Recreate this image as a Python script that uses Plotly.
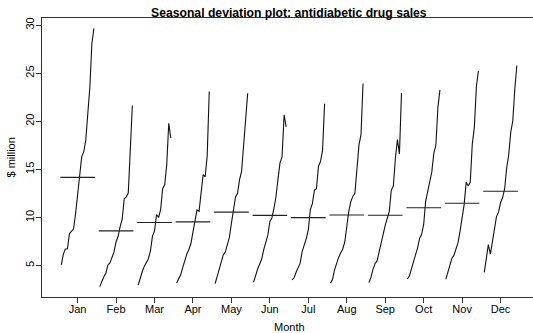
import numpy as np
import plotly.graph_objects as go

months = ["Jan", "Feb", "Mar", "Apr", "May", "Jun", "Jul", "Aug", "Sep", "Oct", "Nov", "Dec"]

# Jan-Jun: 1992-2008, Jul-Dec: 1991-2007 ($ million)
jan = [5.088335, 6.192068, 6.731473, 6.749484, 8.329452, 8.524471, 8.798513, 10.391416, 12.511462, 14.497581, 16.300269, 16.828350, 18.003768, 20.778723, 23.486694, 28.038383, 29.665356]
feb = [2.814520, 3.450857, 3.841278, 4.216067, 5.069796, 5.277918, 5.918261, 6.421535, 7.457199, 8.049275, 9.053485, 9.800215, 11.938030, 12.154552, 12.536987, 16.763869, 21.654285]
mar = [2.985811, 3.772307, 4.394076, 4.949349, 5.262557, 5.714303, 6.534493, 8.062619, 8.591191, 10.312891, 10.002449, 10.816994, 12.997900, 13.402392, 15.467018, 19.792754, 18.264945]
apr = [3.204780, 3.734303, 4.075341, 4.823045, 5.597126, 6.214529, 6.675736, 7.297739, 8.474000, 9.753358, 10.788750, 10.654223, 12.882645, 14.459239, 14.233539, 16.427305, 23.107677]
may = [3.127578, 3.905399, 4.540645, 5.194754, 6.110296, 6.411929, 7.064201, 7.936916, 9.386803, 10.850382, 12.106705, 12.512323, 13.943447, 14.795102, 17.783058, 21.000742, 22.912510]
jun = [3.270523, 4.049687, 4.645615, 5.170787, 5.689161, 6.667716, 7.383381, 8.165323, 9.560399, 9.961719, 10.954101, 12.161210, 13.989472, 15.705248, 16.291602, 20.681002, 19.431740]
jul = [3.526591, 3.737851, 4.315566, 4.752607, 5.256742, 6.486849, 7.050831, 7.813496, 8.717420, 10.834295, 11.443601, 12.844566, 12.998046, 15.339097, 15.829550, 16.980282, 21.834890]
aug = [3.180891, 3.558776, 4.562185, 5.350605, 5.855277, 6.300569, 6.704919, 7.431892, 9.070964, 10.643751, 11.659239, 12.196500, 12.517276, 15.370764, 17.554701, 18.612189, 23.930204]
sep = [3.252221, 3.777202, 4.608662, 5.204455, 5.490729, 6.467476, 7.250988, 8.275117, 9.177113, 9.908162, 10.647060, 12.854748, 13.268658, 16.142005, 18.100864, 16.623343, 22.930357]
oct_ = [3.611003, 3.924490, 4.667851, 5.301651, 6.115293, 6.828629, 7.819733, 8.260441, 9.251887, 11.710041, 12.652134, 13.542004, 14.733622, 16.685754, 17.496668, 21.430241, 23.263340]
nov = [3.565869, 4.386531, 5.093841, 5.773742, 6.088473, 6.649078, 7.398101, 8.596156, 9.933136, 11.340151, 13.674466, 13.287640, 13.669382, 17.636728, 19.347265, 23.575517, 25.250030]
dec = [4.306371, 5.810549, 7.179962, 6.204593, 7.416598, 8.606937, 10.096233, 10.558939, 11.532974, 12.079132, 12.965735, 15.134918, 16.503966, 18.869325, 20.031291, 23.334206, 25.806090]

series = [jan, feb, mar, apr, may, jun, jul, aug, sep, oct_, nov, dec]

fig = go.Figure()
for i, vals in enumerate(series, start=1):
    n = len(vals)
    xs = [i + 0.9 * (k - (n + 1) / 2) / n for k in range(1, n + 1)]
    fig.add_trace(go.Scatter(x=xs, y=vals, mode="lines",
                             line=dict(color="#111111", width=1.1),
                             showlegend=False, hoverinfo="skip"))
    m = float(np.mean(vals))
    fig.add_trace(go.Scatter(x=[i - 0.45, i + 0.45], y=[m, m], mode="lines",
                             line=dict(color="#222222", width=1.1),
                             showlegend=False, hoverinfo="skip"))

W, H = 533, 333
L, T, B = 42, 18, 36
plot_w = W - L
plot_h = H - T - B
unit = 38.45
x0 = 0.074
x1 = x0 + plot_w / unit

fig.update_layout(
    width=W, height=H,
    margin=dict(l=L, r=0, t=T, b=B),
    paper_bgcolor="white", plot_bgcolor="white",
    font=dict(family="Liberation Sans, Arial, sans-serif", color="black", size=11),
    xaxis=dict(range=[x0, x1], tickmode="array", tickvals=list(range(1, 13)),
               ticktext=months, showline=True, linecolor="#333333", linewidth=1,
               mirror=True, ticks="outside", ticklen=5, tickcolor="#333333",
               showgrid=False, zeroline=False, tickfont=dict(size=11),
               ticklabelstandoff=-3),
    yaxis=dict(range=[1.74, 30.74], tickmode="array", tickvals=[5, 10, 15, 20, 25, 30],
               showline=True, linecolor="#333333", linewidth=1, mirror=False,
               ticks="outside", ticklen=5, tickcolor="#333333", tickangle=-90,
               showgrid=False, zeroline=False, tickfont=dict(size=11),
               ticklabelstandoff=-2),
    annotations=[
        dict(text="<b>Seasonal deviation plot: antidiabetic drug sales</b>",
             xref="paper", yref="paper", x=(288.5 - L) / plot_w,
             y=1 + (T - 12.5) / plot_h,
             xanchor="center", yanchor="middle", showarrow=False,
             font=dict(size=12.2)),
        dict(text="Month", xref="paper", yref="paper", x=(289 - L) / plot_w,
             y=-(327 - (H - B)) / plot_h, xanchor="center", yanchor="middle",
             showarrow=False, font=dict(size=11)),
        dict(text="$ million", xref="paper", yref="paper", x=-(L - 10) / plot_w,
             y=0.5, xanchor="center", yanchor="middle", textangle=-90,
             showarrow=False, font=dict(size=11)),
    ],
)

fig.write_html("out.html")
